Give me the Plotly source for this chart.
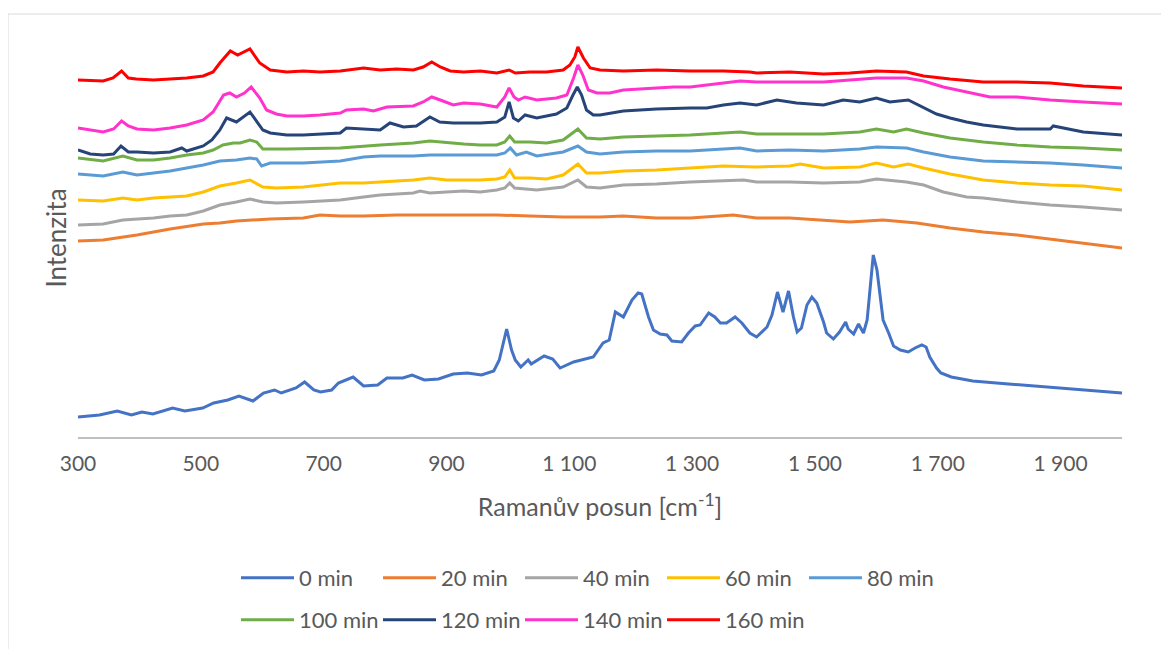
import plotly.graph_objects as go

# Raman shift [cm-1] and intensity (arbitrary units), per series
S0 = [(300,20),(335,22),(364,26),(387,22),(404,25),(422,23),(454,29),(474,26),(503,29),(521,34),(544,37),(562,41),(585,36),(602,44),(620,47),(631,44),(655,49),(669,55),(684,47),(695,45),(713,47),(724,54),(748,60),(765,51),(788,52),(803,59),(829,59),(844,62),(864,57),(887,58),(911,63),(934,64),(957,62),(977,66),(986,77),(998,108),(1006,87),(1012,77),(1021,70),(1033,77),(1038,73),(1059,81),(1073,78),(1085,69),(1107,75),(1139,80),(1155,94),(1165,97),(1175,125),(1188,120),(1202,137),(1212,144),(1218,143),(1229,120),(1237,107),(1248,103),(1259,102),(1267,96),(1283,95),(1294,104),(1305,111),(1313,112),(1327,124),(1337,120),(1346,114),(1356,114),(1370,120),(1381,114),(1394,104),(1405,100),(1422,110),(1430,122),(1439,145),(1448,125),(1457,146),(1465,120),(1471,105),(1478,109),(1487,132),(1495,140),(1503,134),(1514,115),(1519,104),(1530,98),(1540,105),(1545,110),(1550,115),(1554,108),(1563,103),(1571,113),(1579,104),(1585,117),(1591,154),(1595,182),(1601,167),(1606,139),(1611,117),(1620,104),(1628,91),(1639,87),(1652,85),(1663,89),(1674,92),(1681,90),(1687,80),(1698,69),(1705,64),(1722,60),(1757,56),(1815,53),(1874,50),(1932,47),(2000,44)]

S20 = [(300,196),(341,197),(396,202),(423,205),(450,208),(504,213),(531,214),(558,216),(585,217),(613,218),(667,219),(694,222),(727,221),(765,221),(819,222),(873,222),(928,222),(982,222),(1036,221),(1090,220),(1150,220),(1188,221),(1242,219),(1297,219),(1367,222),(1405,219),(1459,219),(1514,217),(1557,215),(1611,217),(1666,214),(1720,209),(1774,205),(1829,202),(1883,198),(1937,194),(2000,189)]

S40 = [(300,212),(341,213),(373,217),(423,219),(450,221),(477,222),(504,226),(531,232),(558,235),(580,238),(601,235),(623,234),(667,235),(727,237),(765,240),(792,242),(819,243),(846,244),(857,246),(873,244),(900,245),(928,246),(955,245),(982,247),(995,249),(1003,254),(1011,249),(1025,248),(1047,247),(1090,250),(1114,257),(1128,250),(1150,249),(1188,252),(1242,253),(1297,255),(1351,256),(1384,257),(1405,255),(1459,255),(1514,254),(1573,255),(1600,258),(1649,255),(1677,252),(1709,245),(1747,240),(1774,239),(1829,235),(1883,232),(1937,230),(2000,227)]

S60 = [(300,237),(341,236),(373,239),(396,237),(423,239),(450,240),(477,241),(504,245),(531,251),(558,254),(580,257),(601,250),(623,249),(667,250),(727,254),(765,254),(792,255),(819,256),(846,257),(873,259),(900,257),(955,257),(982,258),(995,260),(1003,267),(1011,259),(1036,259),(1063,258),(1090,262),(1114,273),(1128,264),(1150,264),(1188,266),(1242,267),(1297,269),(1351,271),(1405,270),(1459,271),(1476,273),(1514,269),(1573,270),(1600,274),(1628,270),(1652,273),(1677,269),(1720,263),(1774,257),(1829,254),(1883,252),(1937,251),(2000,247)]

S80 = [(300,263),(341,261),(373,265),(396,262),(423,264),(450,266),(477,269),(504,272),(531,276),(558,277),(580,279),(591,278),(599,271),(613,274),(667,274),(727,276),(765,280),(792,281),(846,281),(873,282),(955,282),(982,282),(995,284),(1004,289),(1014,282),(1030,285),(1047,281),(1090,285),(1114,291),(1128,285),(1150,283),(1188,285),(1242,286),(1297,286),(1351,288),(1378,289),(1405,286),(1459,287),(1514,286),(1573,288),(1600,290),(1649,289),(1677,285),(1720,280),(1774,276),(1829,275),(1883,274),(1937,272),(2000,269)]

S100 = [(300,279),(341,276),(373,281),(396,277),(423,277),(450,279),(477,282),(504,284),(520,287),(536,292),(553,294),(564,294),(580,297),(591,295),(601,288),(640,288),(727,289),(765,291),(792,292),(819,293),(846,294),(873,296),(889,295),(928,293),(955,292),(982,292),(995,295),(1003,301),(1011,295),(1036,295),(1063,294),(1090,297),(1114,308),(1128,299),(1150,298),(1188,300),(1242,301),(1297,302),(1378,305),(1405,303),(1459,303),(1514,303),(1573,305),(1600,308),(1628,305),(1649,308),(1677,304),(1720,299),(1774,295),(1829,292),(1883,290),(1937,289),(2000,287)]

S120 = [(300,287),(320,283),(341,282),(358,283),(370,291),(382,285),(396,285),(423,284),(450,285),(469,289),(477,286),(504,291),(518,297),(531,307),(542,319),(558,315),(580,325),(590,317),(601,307),(613,304),(640,302),(667,302),(694,303),(727,304),(737,309),(765,308),(792,307),(808,314),(830,310),(851,311),(873,320),(889,315),(911,314),(955,314),(982,315),(995,320),(1002,335),(1009,319),(1017,316),(1028,322),(1047,319),(1079,323),(1096,329),(1106,342),(1113,350),(1120,342),(1128,327),(1139,322),(1150,322),(1188,326),(1242,328),(1297,329),(1324,329),(1351,332),(1378,334),(1405,332),(1438,337),(1470,334),(1514,332),(1546,337),(1573,335),(1600,339),(1622,335),(1652,337),(1671,331),(1698,323),(1720,319),(1747,315),(1774,312),(1801,310),(1829,308),(1883,308),(1888,311),(1937,305),(2000,302)]

S140 = [(300,309),(341,305),(358,308),(371,316),(382,311),(396,308),(423,307),(450,309),(477,312),(504,317),(520,325),(537,342),(547,344),(558,340),(571,344),(582,350),(596,339),(607,327),(623,323),(640,321),(667,321),(694,322),(727,324),(737,327),(765,328),(781,326),(803,330),(846,331),(862,335),(876,340),(890,337),(911,332),(928,334),(955,333),(982,330),(995,340),(1002,349),(1010,340),(1017,337),(1028,340),(1047,337),(1079,339),(1096,342),(1107,359),(1114,372),(1122,362),(1131,347),(1145,344),(1166,344),(1188,347),(1242,349),(1270,350),(1297,350),(1351,354),(1378,356),(1405,355),(1459,355),(1514,355),(1557,357),(1600,359),(1649,359),(1677,356),(1709,350),(1747,345),(1785,340),(1829,340),(1883,337),(1937,335),(2000,333)]

S160 = [(300,357),(341,356),(357,359),(371,366),(382,359),(395,358),(423,357),(450,358),(477,359),(504,361),(520,365),(531,374),(542,382),(548,386),(560,382),(580,388),(596,374),(613,367),(640,365),(667,366),(694,365),(727,366),(765,369),(792,367),(819,368),(846,367),(862,370),(876,375),(890,370),(906,366),(928,365),(955,366),(982,364),(1002,367),(1012,364),(1036,365),(1063,365),(1090,367),(1101,372),(1109,380),(1114,390),(1123,379),(1134,369),(1150,367),(1188,366),(1242,367),(1297,366),(1351,366),(1394,365),(1405,364),(1459,365),(1514,363),(1557,364),(1600,366),(1649,365),(1677,361),(1720,358),(1774,355),(1829,355),(1883,354),(1937,351),(2000,349)]

SERIES = [S0, S20, S40, S60, S80, S100, S120, S140, S160]
NAMES = ["0 min", "20 min", "40 min", "60 min", "80 min", "100 min", "120 min", "140 min", "160 min"]
COLORS = ["#4472C4", "#ED7D31", "#A5A5A5", "#FFC000", "#5B9BD5", "#70AD47", "#264478", "#FF33CC", "#FF0000"]

TICKVALS = [300, 500, 700, 900, 1100, 1300, 1500, 1700, 1900]
TICKTEXT = ["300", "500", "700", "900", "1 100", "1 300", "1 500", "1 700", "1 900"]

FONT = "Lato"
GREY = "#595959"

fig = go.Figure()
for i, (s, name, col) in enumerate(zip(SERIES, NAMES, COLORS)):
    xs = [p[0] for p in s]
    ys = [p[1] for p in s]
    fig.add_trace(go.Scatter(
        x=xs, y=ys, mode="lines", name=name,
        line=dict(color=col, width=3),
        legend="legend" if i < 5 else "legend2",
    ))

OFF = 8  # page body margin
W, H = 1169 - OFF, 649 - OFF
L, T = 78 - OFF, 39 - OFF
R = W - (1122 - OFF)
B = H - (437 - OFF)
pw, ph = W - L - R, H - T - B

def px2paper(x):  # x in reference-picture pixels
    return (x - OFF - L) / pw

def py2paper(y):  # y in reference-picture pixels
    return (H - B - (y - OFF)) / ph

legend_common = dict(
    orientation="h", xanchor="left", yanchor="middle",
    font=dict(family=FONT, size=22, color=GREY),
    itemwidth=53, entrywidth=74, entrywidthmode="pixels",
    bgcolor="rgba(0,0,0,0)", traceorder="normal",
)

fig.update_layout(
    width=W, height=H,
    margin=dict(l=L, r=R, t=T, b=B, autoexpand=False),
    paper_bgcolor="white", plot_bgcolor="white",
    font=dict(family=FONT, color=GREY),
    xaxis=dict(
        range=[300, 2000], tickvals=TICKVALS, ticktext=TICKTEXT, automargin=False,
        showgrid=False, zeroline=False, showline=True, linecolor="#BFBFBF", linewidth=1.5,
        ticks="", tickfont=dict(family=FONT, size=21, color=GREY), ticklabelstandoff=7,
        title=dict(text="Ramanův posun [cm<sup>-1</sup>]", font=dict(family=FONT, size=25, color=GREY), standoff=25),
    ),
    yaxis=dict(
        range=[0, ph], showgrid=False, zeroline=False, showline=False, showticklabels=False, ticks="",
        automargin=False,
        title=dict(text="Intenzita", font=dict(family=FONT, size=26, color=GREY), standoff=2),
    ),
    legend=dict(x=px2paper(236), y=py2paper(578), **legend_common),
    legend2=dict(x=px2paper(236), y=py2paper(620), **legend_common),
    shapes=[
        dict(type="line", xref="paper", yref="paper", x0=px2paper(8), x1=px2paper(8), y0=py2paper(14), y1=py2paper(660),
             line=dict(color="#D9D9D9", width=1)),
        dict(type="line", xref="paper", yref="paper", x0=px2paper(8), x1=px2paper(1180), y0=py2paper(14), y1=py2paper(14),
             line=dict(color="#D9D9D9", width=1)),
    ],
)

fig.write_html("out.html")
